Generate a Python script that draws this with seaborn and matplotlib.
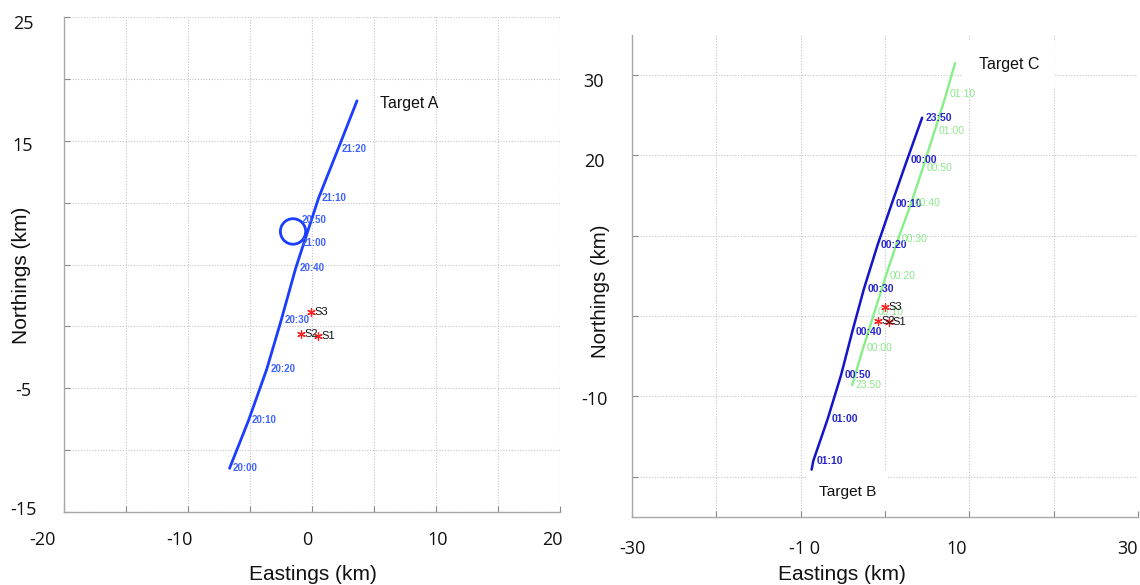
import matplotlib
matplotlib.use("Agg")
import matplotlib.pyplot as plt
from matplotlib.patches import Ellipse
import pandas as pd
import seaborn as sns

# ---- station positions (km) ----
stations = ["S1", "S2", "S3"]
station_east = [0.5, -0.85, -0.05]
station_north = [-0.75, -0.6, 1.2]

# ---- Target A: 10-minute fixes (last fix unlabelled) ----
a_times = ["20:00", "20:10", "20:20", "20:30", "20:40", "20:50", "21:00", "21:10", "21:20", ""]
a_east = [-6.65, -5.11, -3.65, -2.48, -1.31, -1.13, -1.13, 0.53, 2.09, 3.63]
a_north = [-11.47, -7.58, -3.46, 0.52, 4.72, 8.57, 6.73, 10.37, 14.30, 18.23]
a_on_loop = [False, False, False, False, False, True, True, False, False, False]
a_loop_center = (-1.53, 7.67)
a_loop_radius = (1.02, 1.03)

# ---- Target B ----
b_times = ["23:50", "00:00", "00:10", "00:20", "00:30", "00:40", "00:50", "01:00", "01:10", ""]
b_east = [4.4, 2.6, 0.8, -0.9, -2.5, -3.9, -5.2, -6.8, -8.5, -8.7]
b_north = [24.7, 19.4, 14.0, 8.8, 3.4, -2.0, -7.3, -12.8, -18.0, -19.1]

# ---- Target C ----
c_times = ["23:50", "00:00", "00:10", "00:20", "00:30", "00:40", "00:50", "01:00", "01:10", ""]
c_east = [-3.9, -2.6, -1.25, 0.1, 1.55, 3.1, 4.5, 5.9, 7.25, 8.3]
c_north = [-8.6, -4.0, 0.5, 5.0, 9.6, 14.05, 18.5, 23.1, 27.6, 31.5]

# ---- axis tick labels ----
left_xtick_pos = [-21.7, -10.7, -0.4, 10.1, 19.4]
left_xtick_lab = ["-20", "-10", "0", "10", "20"]
left_ytick_pos = [24.6, 14.7, -5.05, -14.7]
left_ytick_lab = ["25", "15", "-5", "-15"]
right_xtick_pos = [-29.9, -9.6, 8.45, 28.7]
right_xtick_lab = ["-30", "-1 0", "10", "30"]
right_ytick_pos = [29.35, 19.4, -10.2, -20.0]
right_ytick_lab = ["30", "20", "-10", "-20"]

sns.set_theme(style="white")
plt.rcParams["font.family"] = ["Liberation Sans", "DejaVu Sans"]

BLUE_A = "#1a3dff"
BLUE_A_TXT = "#3f62ff"
BLUE_B = "#1414c8"
BLUE_B_TXT = "#2626cc"
GREEN_C = "#86ef86"
GREEN_C_TXT = "#8ee88e"
GRID = "#c4c4c4"
SPINE = "#a8a8a8"
TICK_FONT = ["Open Sans", "DejaVu Sans"]

fig = plt.figure(figsize=(11.4, 5.85), dpi=100)
W, H = 1140, 585
ax1 = fig.add_axes([64 / W, 1 - 512 / H, 496 / W, 495 / H])
ax2 = fig.add_axes([632 / W, 1 - 517 / H, 506 / W, 482 / H])

stations_df = pd.DataFrame({"name": stations, "east": station_east, "north": station_north})


def style_axes(ax, xlim, ylim, xmajor, ymajor, xpos, xlab, ypos, ylab, xpad, ypad):
    ax.set_xticks(xmajor)
    ax.set_yticks(ymajor)
    ax.set_yticks(ypos, ylab, minor=True)
    ax.set_xlim(*xlim)
    ax.set_ylim(*ylim)
    ax.tick_params(which="major", labelbottom=False, labelleft=False,
                   direction="in", length=4, width=0.8, color="#888888",
                   bottom=True, left=True)
    ax.tick_params(axis="y", which="minor", length=0, labelsize=13,
                   labelcolor="#111111", pad=ypad)
    for lbl in ax.get_yticklabels(minor=True):
        lbl.set_fontfamily(TICK_FONT)
        lbl.set_horizontalalignment("center")
    # x labels sit beneath the axis at their own eastings (one lies past the left edge)
    for p, t in zip(xpos, xlab):
        ax.annotate(t, xy=(p, 0), xycoords=("data", "axes fraction"),
                    xytext=(0, -xpad), textcoords="offset points",
                    ha="center", va="top", fontsize=13, color="#111111",
                    fontfamily=TICK_FONT, annotation_clip=False)
    ax.grid(True, which="major", color=GRID, linestyle=(0, (1, 1.5)), linewidth=0.8)
    ax.grid(False, which="minor")
    for side in ("top", "right"):
        ax.spines[side].set_visible(False)
    for side in ("left", "bottom"):
        ax.spines[side].set_color(SPINE)
        ax.spines[side].set_linewidth(1.0)
    ax.set_xlabel("")
    ax.set_ylabel("")
    ax.set_facecolor("white")


def draw_stations(ax):
    sns.scatterplot(data=stations_df, x="east", y="north", ax=ax, marker=(6, 2, 0),
                    s=30, color="#ff2020", linewidth=0.9, zorder=5, legend=False)
    for name, e, n in zip(stations, station_east, station_north):
        ax.annotate(name, (e, n), xytext=(2.5, 0), textcoords="offset points",
                    ha="left", va="center", fontsize=8, color="#111111", zorder=6)


def time_labels(ax, times, east, north, color, weight, size):
    for t, e, n in zip(times, east, north):
        if t:
            ax.annotate(t, (e, n), xytext=(2.5, 0), textcoords="offset points",
                        ha="left", va="center", fontsize=size, color=color,
                        fontweight=weight, zorder=4)


# ---------------- left panel: Target A ----------------
a_df = pd.DataFrame({"time": a_times, "east": a_east, "north": a_north, "loop": a_on_loop})
leg = a_df[~a_df["loop"]]
sns.lineplot(data=leg, x="east", y="north", sort=False, estimator=None, ax=ax1,
             color=BLUE_A, linewidth=2.0, zorder=3)
ax1.add_patch(Ellipse(a_loop_center, 2 * a_loop_radius[0], 2 * a_loop_radius[1],
                      fill=False, edgecolor=BLUE_A, linewidth=2.0, zorder=3))
time_labels(ax1, a_times, a_east, a_north, BLUE_A_TXT, "bold", 7)
draw_stations(ax1)
ax1.text(7.8, 18.0, "Target A", fontsize=11.4, ha="center", va="center", color="#111111")
style_axes(ax1, (-20, 20), (-15, 25), list(range(-20, 21, 5)), list(range(-15, 26, 5)),
           left_xtick_pos, left_xtick_lab, left_ytick_pos, left_ytick_lab, 14, 29.5)

# ---------------- right panel: Targets B and C ----------------
b_df = pd.DataFrame({"time": b_times, "east": b_east, "north": b_north})
c_df = pd.DataFrame({"time": c_times, "east": c_east, "north": c_north})
sns.lineplot(data=b_df, x="east", y="north", sort=False, estimator=None, ax=ax2,
             color=BLUE_B, linewidth=1.8, zorder=3)
sns.lineplot(data=c_df, x="east", y="north", sort=False, estimator=None, ax=ax2,
             color=GREEN_C, linewidth=1.7, zorder=3)
time_labels(ax2, b_times, b_east, b_north, BLUE_B_TXT, "bold", 7.5)
time_labels(ax2, c_times, c_east, c_north, GREEN_C_TXT, "normal", 7.5)
draw_stations(ax2)
ax2.text(14.7, 31.3, "Target C", fontsize=11.5, ha="center", va="center",
         color="#111111", zorder=2.5,
         bbox=dict(facecolor="white", edgecolor="none", boxstyle="square,pad=1.0"))
ax2.text(-4.45, -21.85, "Target B", fontsize=11.1, ha="center", va="center",
         color="#111111", zorder=2.5,
         bbox=dict(facecolor="white", edgecolor="none", boxstyle="square,pad=0.8"))
style_axes(ax2, (-30, 30), (-25, 35), list(range(-30, 31, 10)), list(range(-20, 31, 10)),
           right_xtick_pos, right_xtick_lab, right_ytick_pos, right_ytick_lab, 16.5, 27.4)

# ---------------- axis titles ----------------
fig.text(313 / W, 1 - 575 / H, "Eastings (km)", ha="center", va="center", fontsize=15, color="#111111")
fig.text(842 / W, 1 - 575 / H, "Eastings (km)", ha="center", va="center", fontsize=15, color="#111111")
fig.text(22 / W, 1 - 275 / H, "Northings (km)", ha="center", va="center", rotation=90,
         fontsize=15, color="#111111")
fig.text(601 / W, 1 - 291 / H, "Northings (km)", ha="center", va="center", rotation=90,
         fontsize=14.7, color="#111111")

fig.savefig("out.png", dpi=100, facecolor="white")
